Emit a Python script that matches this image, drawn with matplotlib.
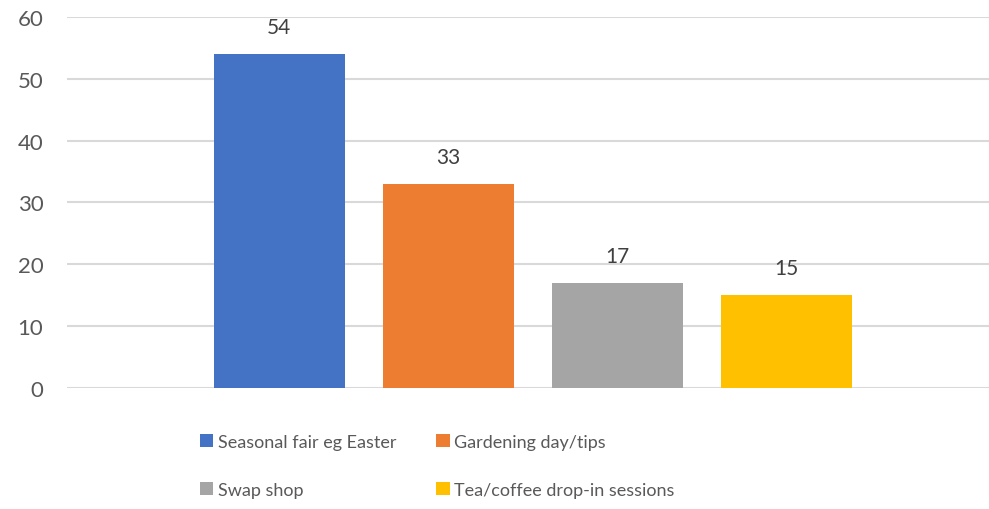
import numpy as np
import matplotlib.pyplot as plt

# survey answers, one bar per option
labels = ["Seasonal fair eg Easter", "Gardening day/tips", "Swap shop",
          "Tea/coffee drop-in sessions"]
counts = [54, 33, 17, 15]
colors = ["#4472C4", "#ED7D31", "#A5A5A5", "#FFC000"]

plt.rcParams['font.family'] = ['Lato', 'DejaVu Sans']

fig = plt.figure(figsize=(9.89, 5.10), dpi=100)
ax = fig.add_axes([0.0677, 0.237, 0.9323, 0.728])

x = np.arange(len(counts))
bars = ax.bar(x, counts, width=0.775, color=colors, zorder=3)

for b, v in zip(bars, counts):
    ax.text(b.get_x() + b.get_width() / 2, v + 4.4, str(v), ha='center',
            va='center', fontsize=15, color='#404040')

ax.set_ylim(0, 60)
ax.set_xlim(-1.257, 4.201)
ax.set_yticks(range(0, 61, 10))
ax.set_xticks([])
ax.yaxis.grid(True, color='#D9D9D9', linewidth=1.5, zorder=0)
ax.tick_params(axis='y', length=0, labelsize=16, labelcolor='#595959', pad=17)
for s in ax.spines.values():
    s.set_visible(False)

# legend fills by column, so reorder to get the row-wise layout
order = [0, 2, 1, 3]
fig.legend(handles=[bars[i] for i in order], labels=[labels[i] for i in order],
           ncol=2, loc='upper left',
           bbox_to_anchor=(0.202, 0.147), frameon=False, fontsize=13,
           labelcolor='#595959', handlelength=0.75, handleheight=0.75,
           handletextpad=0.25, columnspacing=2.2, labelspacing=1.75,
           borderaxespad=0, borderpad=0)

fig.savefig("out.png", dpi=100, facecolor='white')
